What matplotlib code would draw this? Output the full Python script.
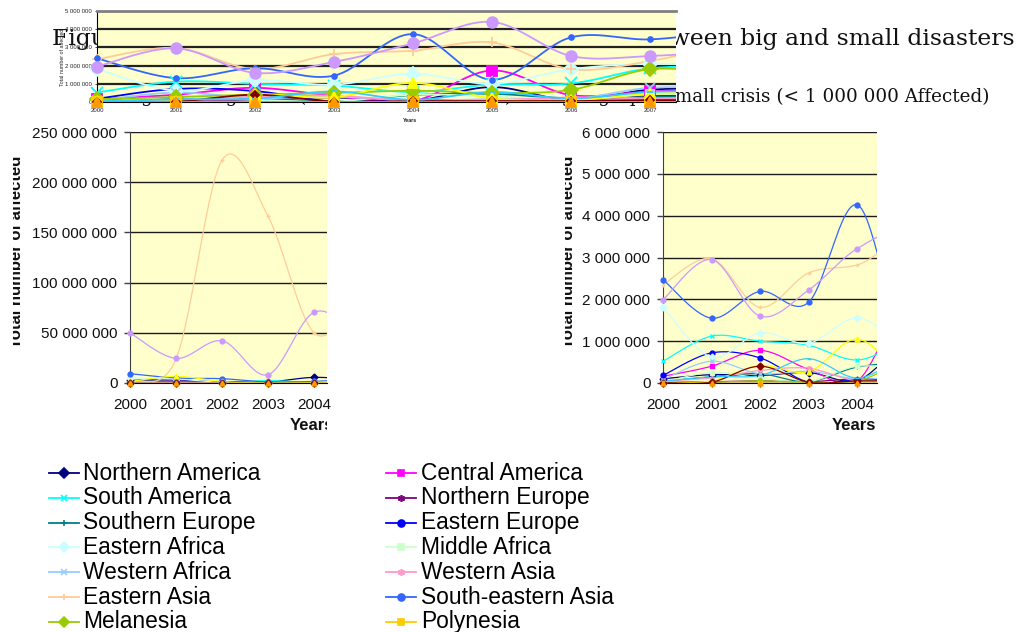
import numpy as np
import matplotlib
matplotlib.use("Agg")
import matplotlib.pyplot as plt
from matplotlib.lines import Line2D
from matplotlib.transforms import Bbox, TransformedBbox

plt.rcParams['font.family'] = ['Liberation Sans', 'DejaVu Sans']

W, H = 1018, 632

# ---------------- data (millions of affected people) ----------------
years = [2000, 2001, 2002, 2003, 2004, 2005, 2006, 2007, 2008]

regions = ["Northern America", "Central America", "South America", "Northern Europe",
           "Southern Europe", "Eastern Europe", "Eastern Africa", "Middle Africa",
           "Western Africa", "Western Asia", "Eastern Asia", "South-eastern Asia",
           "Melanesia", "Polynesia", "Southern Asia", "Caribbean",
           "Northern Africa", "Southern Africa", "Micronesia"]
legend_count = 14  # rows below the figure edge are not visible

# small crisis (< 1 000 000 affected per event)
small_northern_america = [0.10, 0.20, 0.18, 0.25, 0.06, 0.82, 0.10, 0.68, 0.70]
small_central_america = [0.16, 0.40, 0.78, 0.33, 0.05, 1.73, 0.38, 0.58, 0.75]
small_south_america = [0.52, 1.12, 1.00, 0.90, 0.55, 0.97, 1.02, 1.85, 1.95]
small_northern_europe = [0.03, 0.03, 0.05, 0.03, 0.10, 0.05, 0.10, 0.33, 0.30]
small_southern_europe = [0.04, 0.15, 0.22, 0.03, 0.38, 0.45, 0.20, 0.28, 0.30]
small_eastern_europe = [0.18, 0.72, 0.60, 0.02, 0.08, 0.12, 0.08, 0.08, 0.10]
small_eastern_africa = [1.81, 0.62, 1.20, 0.95, 1.56, 1.00, 1.80, 2.10, 2.00]
small_middle_africa = [0.02, 0.25, 0.12, 0.03, 0.40, 0.30, 0.10, 0.42, 0.40]
small_western_africa = [0.08, 0.52, 0.22, 0.28, 0.10, 0.15, 0.15, 0.78, 0.75]
small_western_asia = [0.05, 0.12, 0.30, 0.35, 0.05, 0.10, 0.25, 0.20, 0.25]
small_eastern_asia = [2.35, 2.97, 1.81, 2.63, 2.82, 3.27, 1.80, 2.25, 3.20]
small_se_asia = [2.47, 1.55, 2.19, 1.93, 4.26, 1.22, 3.55, 3.44, 3.90]
small_melanesia = [0.02, 0.02, 0.05, 0.02, 0.05, 0.50, 0.67, 1.80, 1.55]
small_polynesia = [0.01, 0.01, 0.01, 0.01, 0.01, 0.01, 0.01, 0.01, 0.01]
small_southern_asia = [1.99, 2.95, 1.60, 2.22, 3.21, 3.60, 2.53, 2.53, 2.80]
small_caribbean = [0.03, 0.05, 0.42, 0.27, 1.05, 0.20, 0.10, 0.45, 0.50]
small_northern_africa = [0.01, 0.02, 0.40, 0.02, 0.05, 0.05, 0.05, 0.10, 0.10]
small_southern_africa = [0.04, 0.15, 0.18, 0.58, 0.12, 0.55, 0.20, 0.55, 0.60]
small_micronesia = [0.0, 0.0, 0.0, 0.0, 0.0, 0.0, 0.0, 0.0, 0.0]

# the small inset chart at the top differs for three series
top_se_asia = [2.40, 1.31, 1.86, 1.45, 3.73, 1.22, 3.55, 3.44, 3.90]
top_melanesia = [0.15, 0.28, 0.40, 0.50, 0.62, 0.50, 0.67, 1.80, 1.55]
top_southern_asia = [1.95, 2.95, 1.60, 2.20, 3.22, 4.40, 2.53, 2.53, 2.80]

# big crisis (> 1 000 000 affected per event)
big_northern_america = [3.0, 3.0, 1.0, 1.0, 5.6, 3.0, 2.0, 2.0, 2.0]
big_central_america = [0.5, 1.6, 0.3, 0.0, 0.2, 1.0, 0.5, 0.5, 0.5]
big_south_america = [0.5, 0.5, 0.5, 2.3, 0.5, 1.0, 1.0, 1.0, 1.0]
big_northern_europe = [0.0, 0.0, 0.0, 0.0, 0.0, 0.0, 0.0, 0.0, 0.0]
big_southern_europe = [0.0, 0.0, 0.0, 0.0, 0.0, 0.0, 0.0, 0.0, 0.0]
big_eastern_europe = [0.0, 0.0, 1.5, 0.0, 0.0, 0.0, 0.0, 0.0, 0.0]
big_eastern_africa = [5.0, 4.0, 0.5, 0.0, 0.5, 1.0, 1.0, 1.0, 1.0]
big_middle_africa = [0.0, 0.0, 0.0, 0.0, 0.0, 0.0, 0.0, 0.0, 0.0]
big_western_africa = [0.0, 0.0, 0.0, 1.0, 0.0, 0.0, 0.0, 0.0, 0.0]
big_western_asia = [0.0, 0.5, 0.0, 0.0, 0.0, 0.0, 0.0, 0.0, 0.0]
big_eastern_asia = [3.0, 24.0, 222.0, 166.0, 50.0, 80.0, 90.0, 60.0, 40.0]
big_se_asia = [9.3, 5.0, 4.3, 1.0, 1.6, 4.0, 3.0, 3.0, 3.0]
big_melanesia = [0.0, 0.0, 0.0, 0.0, 0.0, 0.0, 0.0, 0.0, 0.0]
big_polynesia = [0.0, 0.0, 0.0, 0.0, 0.0, 0.0, 0.0, 0.0, 0.0]
big_southern_asia = [50.0, 24.5, 42.0, 8.3, 70.4, 50.0, 40.0, 40.0, 40.0]
big_caribbean = [1.5, 6.6, 1.5, 0.0, 0.5, 2.0, 1.0, 1.0, 1.0]
big_northern_africa = [0.0, 0.0, 0.0, 0.0, 0.0, 0.0, 0.0, 0.0, 0.0]
big_southern_africa = [0.0, 0.0, 0.0, 0.0, 0.0, 0.0, 0.0, 0.0, 0.0]
big_micronesia = [0.0, 0.0, 0.0, 0.0, 0.0, 0.0, 0.0, 0.0, 0.0]

small = [small_northern_america, small_central_america, small_south_america,
         small_northern_europe, small_southern_europe, small_eastern_europe,
         small_eastern_africa, small_middle_africa, small_western_africa,
         small_western_asia, small_eastern_asia, small_se_asia, small_melanesia,
         small_polynesia, small_southern_asia, small_caribbean,
         small_northern_africa, small_southern_africa, small_micronesia]
top = list(small)
top[11] = top_se_asia
top[12] = top_melanesia
top[14] = top_southern_asia
big = [big_northern_america, big_central_america, big_south_america,
       big_northern_europe, big_southern_europe, big_eastern_europe,
       big_eastern_africa, big_middle_africa, big_western_africa,
       big_western_asia, big_eastern_asia, big_se_asia, big_melanesia,
       big_polynesia, big_southern_asia, big_caribbean,
       big_northern_africa, big_southern_africa, big_micronesia]

AST = (6, 2, 0)
colors = ["#000080", "#FF00FF", "#00FFFF", "#800080", "#008080", "#0000FF",
          "#CCFFFF", "#CCFFCC", "#99CCFF", "#FF99CC", "#FFCC99", "#3366FF",
          "#99CC00", "#FFCC00", "#CC99FF", "#FFFF00", "#800000", "#33CCFF",
          "#FF9900"]
markers = ["D", "s", "x", AST, "+", "o", "D", "s", "x", AST, "+", "o",
           "D", "s", "o", "^", "D", "_", "^"]
# relative marker size in the top inset (small dots for the two blue series)
top_marker_scale = [0.6, 1, 1.2, 0.7, 1, 0.45, 1, 0.8, 1, 0.7, 1, 0.5,
                    1, 1, 1.1, 1, 0.6, 0.6, 1.1]

# ---------------- helpers ----------------
fig = plt.figure(figsize=(W / 100, H / 100), dpi=100)


def px_axes(l, t, r, b, **kw):
    return fig.add_axes([l / W, 1 - b / H, (r - l) / W, (b - t) / H], **kw)


def smooth(x, y, n=30):
    P = np.column_stack([np.asarray(x, float), np.asarray(y, float)])
    out = [P[0]]
    tt = np.linspace(0, 1, n)[1:, None]
    for i in range(len(P) - 1):
        p0 = P[i - 1] if i > 0 else P[i]
        p1, p2 = P[i], P[i + 1]
        p3 = P[i + 2] if i + 2 < len(P) else P[i + 1]
        c1 = p1 + (p2 - p0) / 6
        c2 = p2 - (p3 - p1) / 6
        seg = ((1 - tt) ** 3) * p1 + 3 * ((1 - tt) ** 2) * tt * c1 + \
              3 * (1 - tt) * tt ** 2 * c2 + tt ** 3 * p2
        out.extend(seg)
    out = np.array(out)
    return out[:, 0], out[:, 1]


def draw_chart(ax, data, xmax, lw, ms, scales=None):
    x = np.array(years, float)
    for i in range(len(data)):
        y = np.array(data[i], float)
        sx, sy = smooth(x, y)
        ax.plot(sx, sy, color=colors[i], lw=lw, zorder=2, solid_capstyle='butt')
        vis = x <= xmax
        m = ms * (scales[i] if scales else 1.0)
        ax.plot(x[vis], y[vis], ls='none', marker=markers[i], color=colors[i],
                mfc=colors[i], mec=colors[i], ms=m, mew=max(1.0, lw),
                zorder=3, clip_on=False)
    ax.set_xlim(2000, xmax)


def space_fmt(scale):
    def f(v, pos=None):
        return "{:,}".format(int(round(v * scale))).replace(",", " ")
    return f


def style_main(ax, ymax, ystep):
    ax.set_facecolor("#FFFFCC")
    ax.set_ylim(0, ymax)
    ax.set_yticks(np.arange(0, ymax + ystep / 2, ystep))
    ax.yaxis.set_major_formatter(plt.FuncFormatter(space_fmt(1_000_000)))
    ax.set_xticks(years[:5])
    ax.set_xticklabels([str(v) for v in years[:5]])
    ax.yaxis.grid(True, color="#1a1a1a", lw=1.0)
    ax.set_axisbelow(True)
    for s in ("top", "right"):
        ax.spines[s].set_visible(False)
    ax.spines["left"].set_color("#404040")
    ax.spines["bottom"].set_color("#000000")
    ax.tick_params(axis="y", length=4, width=1, pad=5, labelsize=11,
                   colors="#404040", labelcolor="#111111")
    ax.tick_params(axis="x", length=3, width=1, pad=8, labelsize=11,
                   colors="#404040", labelcolor="#111111")


def clip_text(t, x0, x1):
    t.set_clip_box(TransformedBbox(Bbox.from_extents(x0 / W, 0, x1 / W, 1),
                                   fig.transFigure))
    t.set_clip_on(True)


# ---------------- title lines (behind the inset) ----------------
fig.text(1015 / W, 1 - 45 / H,
         "Figure 4: Affected per subregion, the difference between big and small disasters",
         ha="right", va="baseline", fontsize=16.9, family="DejaVu Serif",
         color="#111111", zorder=1)
fig.text(990 / W, 1 - 102 / H,
         "Left graph: big crisis (> 1 000 000 Affected)  -  Right graph: small crisis (< 1 000 000 Affected)",
         ha="right", va="baseline", fontsize=13.2, family="DejaVu Serif",
         color="#111111", zorder=1)

# ---------------- left chart: big crisis ----------------
axL = px_axes(130, 132, 327, 383)
style_main(axL, 250, 50)
draw_chart(axL, big, 2004.28, 0.9, 3.5)
axL.set_ylim(0, 250)

# ---------------- right chart: small crisis ----------------
axR = px_axes(663, 132, 877, 383)
style_main(axR, 6, 1)
draw_chart(axR, small, 2004.41, 0.9, 3.5)
axR.set_ylim(0, 6)

for xb, x0 in ((21, 13), (573, 565)):
    t = fig.text(xb / W, 1 - 252 / H, "Total number of affected", rotation=90,
                 rotation_mode="anchor", ha="center", va="baseline",
                 fontsize=12, fontweight="bold", color="#111111")
    clip_text(t, x0, W)

for xs, xe in ((290, 327), (832, 877)):
    t = fig.text(xs / W, 1 - 425 / H, "Years", ha="left", va="center",
                 fontsize=12, fontweight="bold", color="#111111")
    clip_text(t, 0, xe)

# ---------------- top inset chart (small crisis, all years) ----------------
axT = px_axes(97, 11, 676, 102, zorder=5)
axT.set_facecolor("#FFFFCC")
draw_chart(axT, top, 2007.33, 1.3, 7, top_marker_scale)
axT.set_ylim(0, 5)
axT.set_yticks(range(0, 6))
axT.yaxis.set_major_formatter(plt.FuncFormatter(space_fmt(1_000_000)))
axT.set_xticks(years[:8])
axT.set_xticklabels([str(v) for v in years[:8]])
axT.yaxis.grid(True, color="#222222", lw=1.6)
axT.set_axisbelow(True)
axT.spines["right"].set_visible(False)
axT.spines["top"].set_color("#808080")
axT.spines["top"].set_linewidth(2)
axT.spines["left"].set_color("#000000")
axT.tick_params(axis="both", length=1.5, width=0.6, pad=2, labelsize=4.3,
                colors="#333333", labelcolor="#222222")
axT.tick_params(axis="x", pad=3)
fig.text(63 / W, 1 - 57 / H, "Total number of affected", rotation=90,
         ha="center", va="center", fontsize=3.8, color="#222222", zorder=6)
fig.text(410 / W, 1 - 121 / H, "Years", ha="center", va="center",
         fontsize=3.8, fontweight="bold", color="#222222", zorder=6)

# ---------------- legend (two columns, row-wise order) ----------------
row_y0, row_dy = 473, 24.8
col_x = [(49, 79, 83), (386, 416, 421)]
for k in range(legend_count):
    name = regions[k]
    row, col = divmod(k, 2)
    y = 1 - (row_y0 + row * row_dy) / H
    xa, xb, xt = col_x[col]
    ln = Line2D([xa / W, (xa + xb) / 2 / W, xb / W], [y, y, y],
                transform=fig.transFigure, color=colors[k], lw=1.3,
                marker=markers[k], markevery=[1], ms=5, mew=1.2,
                mfc=colors[k], mec=colors[k])
    fig.add_artist(ln)
    fig.text(xt / W, y, name, ha="left", va="center", fontsize=16.4,
             color="#000000")

fig.savefig("out.png", dpi=100)
